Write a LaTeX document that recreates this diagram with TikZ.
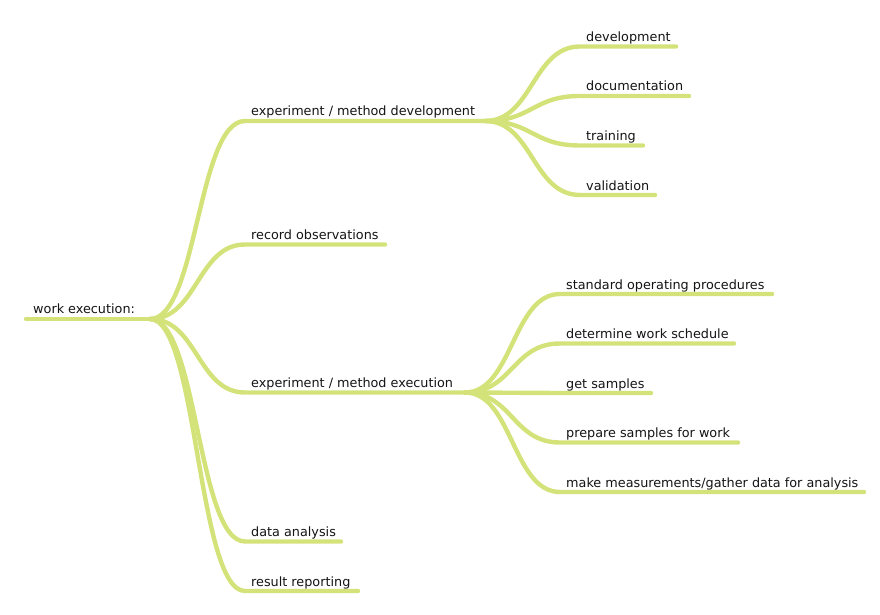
\documentclass[tikz,border=0pt]{standalone}
\usepackage{fontspec}
\setmainfont{DejaVu Sans}
\definecolor{branch}{RGB}{212,226,122}
\definecolor{ink}{RGB}{20,20,20}
\begin{document}
\begin{tikzpicture}[x=1pt,y=-1pt,
  edge/.style={draw=branch,line width=4.4pt,line cap=round},
  lbl/.style={anchor=base west,inner sep=0pt,text=ink,font=\fontsize{12.8}{15}\selectfont}]
\useasboundingbox (0,0) rectangle (880,615);
% root
\coordinate (r-s) at (26,319);
\coordinate (r-e) at (150,319);
\node[lbl] (r) at (33,313.5) {work execution:};
% level 1
\coordinate (a-s) at (245,121);   \coordinate (a-e) at (485,121);
\coordinate (b-s) at (245,244.5); \coordinate (b-e) at (385,244.5);
\coordinate (c-s) at (245,392.5); \coordinate (c-e) at (465,392.5);
\coordinate (d-s) at (245,541.5); \coordinate (d-e) at (341,541.5);
\coordinate (e-s) at (245,591);   \coordinate (e-e) at (358,591);
\node[lbl] (a) at (251,116) {experiment / method development};
\node[lbl] (b) at (251,239.5) {record observations};
\node[lbl] (c) at (251,387.5) {experiment / method execution};
\node[lbl] (d) at (251,536.5) {data analysis};
\node[lbl] (e) at (251,586) {result reporting};
% level 2 under a
\coordinate (a1-s) at (580,46.5);  \coordinate (a1-e) at (676,46.5);
\coordinate (a2-s) at (580,96);    \coordinate (a2-e) at (689,96);
\coordinate (a3-s) at (580,145.5); \coordinate (a3-e) at (643,145.5);
\coordinate (a4-s) at (580,195);   \coordinate (a4-e) at (655,195);
\node[lbl] (a1) at (586,41.5) {development};
\node[lbl] (a2) at (586,91) {documentation};
\node[lbl] (a3) at (586,140.5) {training};
\node[lbl] (a4) at (586,190) {validation};
% level 2 under c
\coordinate (c1-s) at (560,294);   \coordinate (c1-e) at (772,294);
\coordinate (c2-s) at (560,343.5); \coordinate (c2-e) at (734,343.5);
\coordinate (c3-s) at (560,393);   \coordinate (c3-e) at (651,393);
\coordinate (c4-s) at (560,442.5); \coordinate (c4-e) at (738,442.5);
\coordinate (c5-s) at (560,492);   \coordinate (c5-e) at (864,492);
\node[lbl] (c1) at (566,289) {standard operating procedures};
\node[lbl] (c2) at (566,338.5) {determine work schedule};
\node[lbl] (c3) at (566,388) {get samples};
\node[lbl] (c4) at (566,437.5) {prepare samples for work};
\node[lbl] (c5) at (566,487) {make measurements/gather data for analysis};
% connectors
\draw[edge] (r-s) -- (r-e);
\foreach \n in {a,b,c,d,e}
  \draw[edge] (r-e) .. controls +(47.5,0) and +(-47.5,0) .. (\n-s) -- (\n-e);
\foreach \n in {a1,a2,a3,a4}
  \draw[edge] (a-e) .. controls +(47.5,0) and +(-47.5,0) .. (\n-s) -- (\n-e);
\foreach \n in {c1,c2,c3,c4,c5}
  \draw[edge] (c-e) .. controls +(47.5,0) and +(-47.5,0) .. (\n-s) -- (\n-e);
\end{tikzpicture}
\end{document}
